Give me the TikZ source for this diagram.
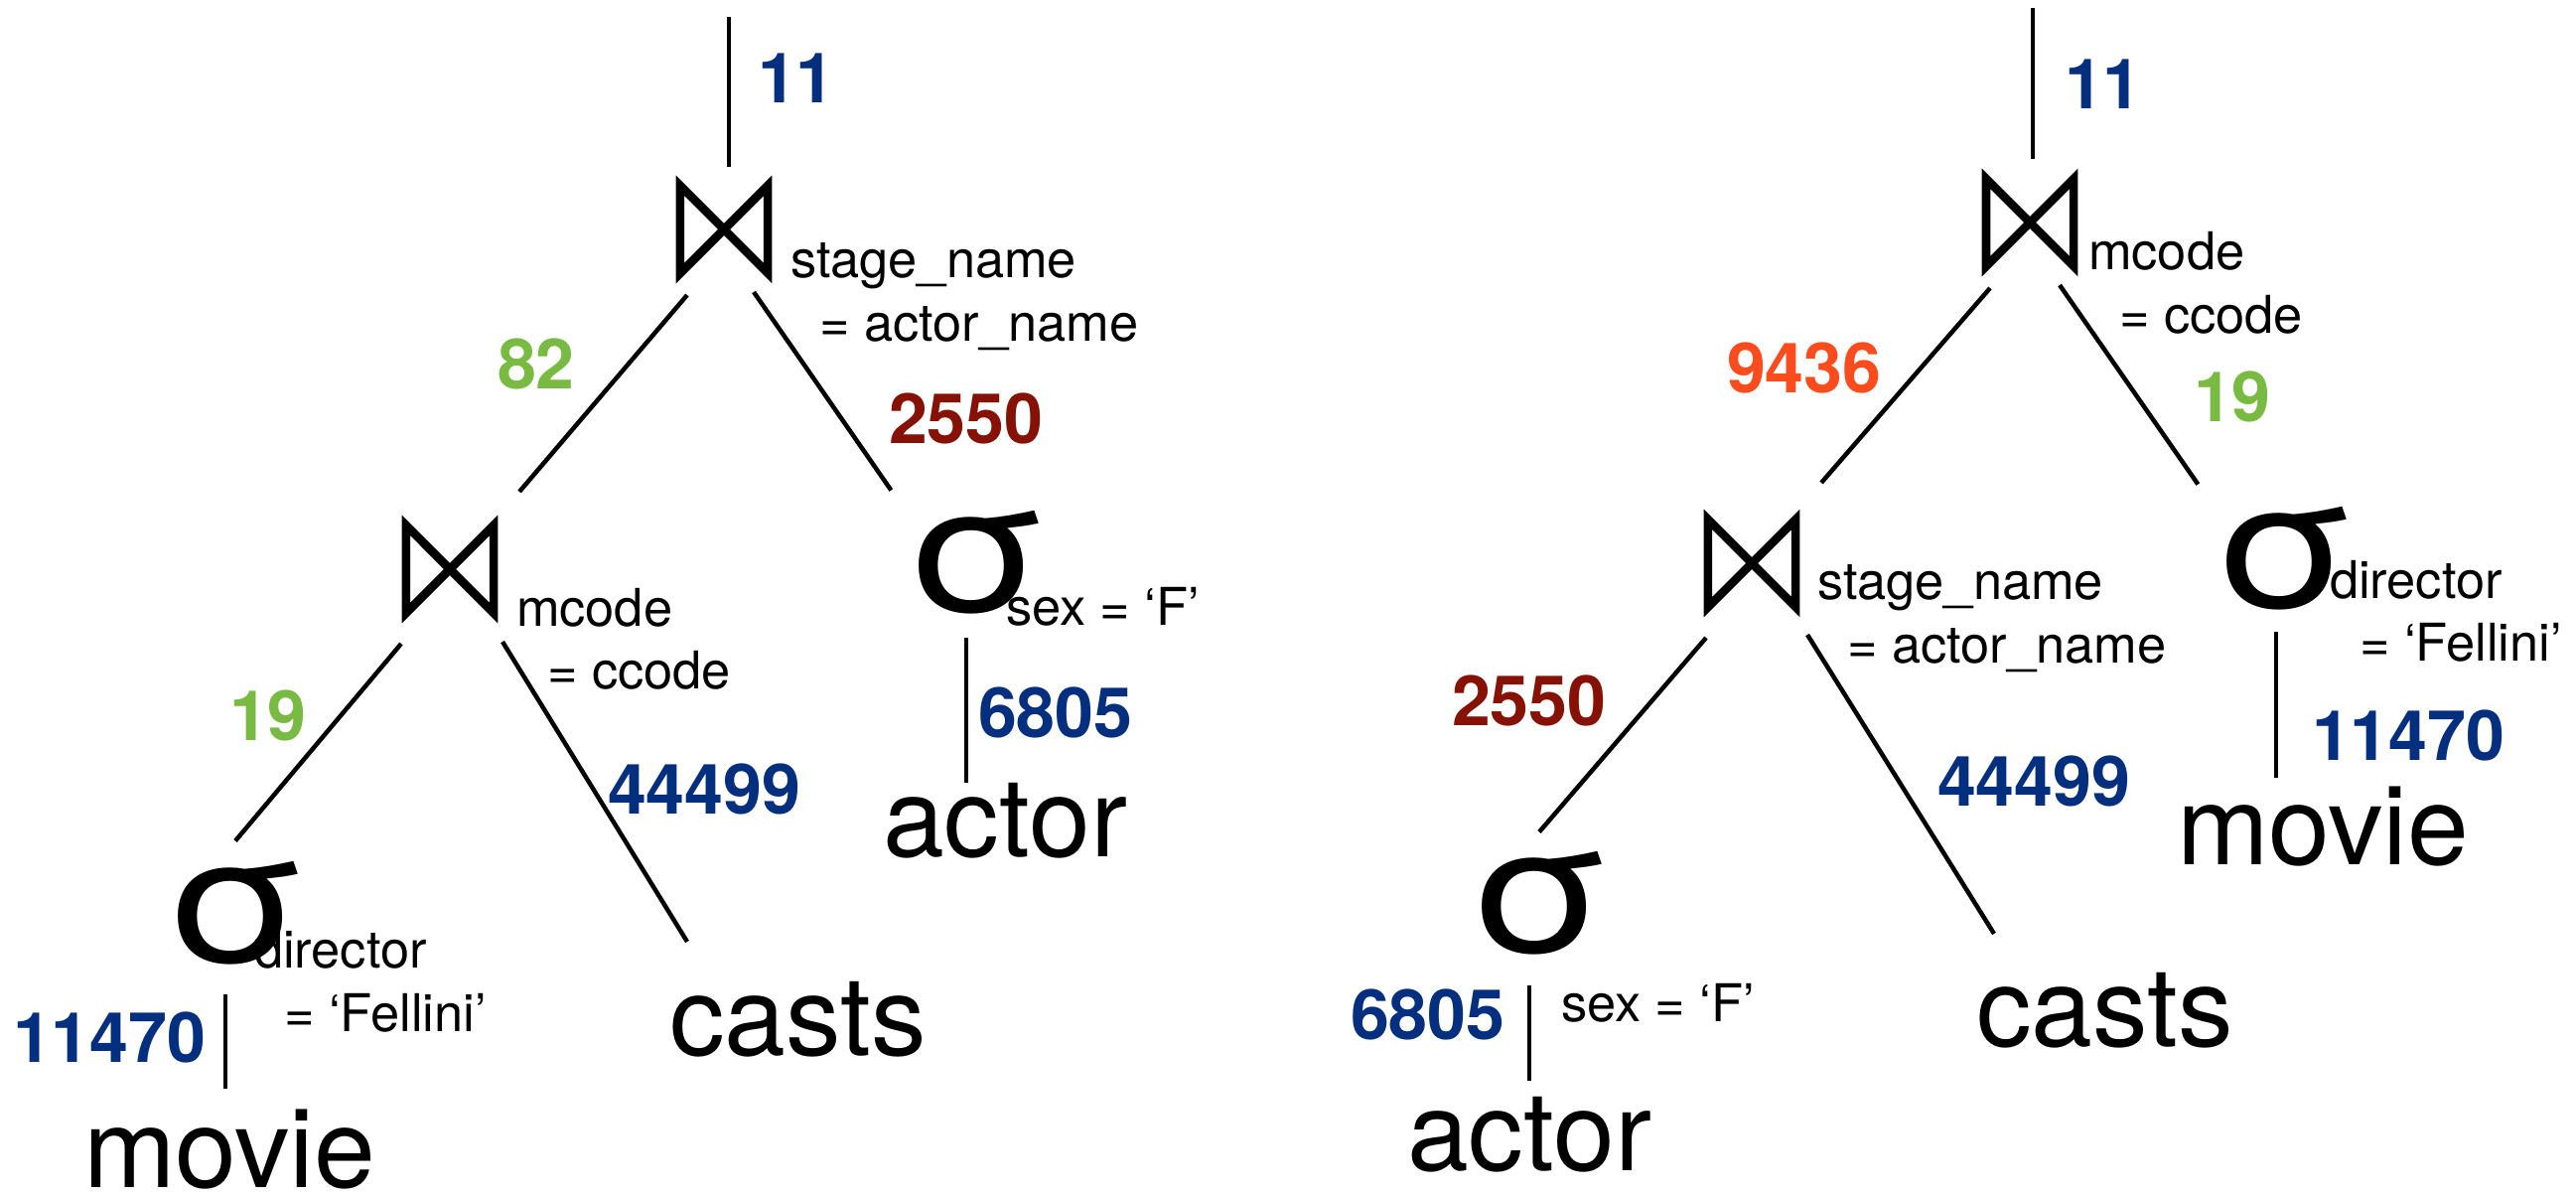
\documentclass[tikz,border=0pt]{standalone}
\usepackage{fontspec}
\setmainfont{TeX Gyre Heros}
\definecolor{cblue}{RGB}{4,46,126}
\definecolor{cgreen}{RGB}{120,186,66}
\definecolor{cdred}{RGB}{133,18,5}
\definecolor{corange}{RGB}{252,76,30}
\newcommand{\condfont}{\fontsize{14.9}{18}\selectfont}
\newcommand{\wordfont}{\fontsize{31.6}{38}\selectfont}
\newcommand{\numfont}{\fontsize{19.9}{24}\selectfont\bfseries}
\newcommand{\sigfont}{\fontsize{50}{60}\selectfont}
\newcommand{\sigsym}{\scalebox{1.26}[1]{σ}}
\begin{document}
\begin{tikzpicture}[x=0.01cm,y=-0.01cm,
  edge/.style={line width=0.045cm, black},
  bow/.style={line width=0.085cm, line join=miter, black},
  joinsym/.style={minimum width=0.96cm, minimum height=1.08cm, inner sep=0pt, outer sep=0pt},
  sig/.style={minimum width=1.1cm, minimum height=0.95cm, inner sep=0pt, outer sep=0pt, font=\sigfont},
  word/.style={anchor=base west, inner sep=0pt, outer sep=0pt, font=\wordfont},
  cond/.style={anchor=base west, inner sep=0pt, outer sep=0pt, font=\condfont},
  num/.style={anchor=base west, inner sep=0pt, outer sep=0pt, font=\numfont}]
\useasboundingbox (0,0) rectangle (2594,1204);
\fill[white] (0,0) rectangle (2594,1204);

% ---------------- left tree ----------------
\coordinate (L-top) at (734,17);
\node[joinsym] (L-J1) at (729,231) {};
\node[joinsym] (L-J2) at (453,573) {};
\node[sig] (L-S1) at (982.5,566.5) {\sigsym};
\node[sig] (L-S2) at (236.5,919) {\sigsym};
\node[word] (L-actor) at (889,863) {actor};
\node[word] (L-casts) at (674,1062) {casts};
\node[word] (L-movie) at (84,1195) {movie};

\node[cond] (L-c1a) at (796,280) {stage\_name};
\node[cond] (L-c1b) at (825,344) {= actor\_name};
\node[cond] (L-c2a) at (520,631) {mcode};
\node[cond] (L-c2b) at (551,694) {= ccode};
\node[cond] (L-c3) at (1013,630) {sex = ‘F’};
\node[cond] (L-c4a) at (256,975) {director};
\node[cond] (L-c4b) at (286,1038) {= ‘Fellini’};

\node[num, text=cblue] (L-n11) at (763,104) {11};
\node[num, text=cgreen] (L-n82) at (501,392) {82};
\node[num, text=cdred] (L-n2550) at (895,447) {2550};
\node[num, text=cgreen] (L-n19) at (231,746) {19};
\node[num, text=cblue] (L-n44499) at (612,820) {44499};
\node[num, text=cblue] (L-n6805) at (985,743) {6805};
\node[num, text=cblue] (L-n11470) at (13,1069) {11470};

\foreach \j in {L-J1,L-J2}{
  \draw[bow] ([shift={(4,10)}]\j.north west) -- ([shift={(4,-10)}]\j.south west)
     -- ([shift={(-4,10)}]\j.north east) -- ([shift={(-4,-10)}]\j.south east) -- cycle;
}

\draw[edge] (L-top) -- ([shift={(5,-9)}]L-J1.north);
\draw[edge] ([shift={(11,12)}]L-J1.south west) -- ([shift={(22,-24)}]L-J2.north east);
\draw[edge] ([shift={(-18,9)}]L-J1.south east) -- ([shift={(-13.5,-21)}]L-S1.north west);
\draw[edge] ([shift={(-9.5,24)}]L-S1.south) -- ([shift={(84,-75)}]L-actor.base west);
\draw[edge] ([shift={(-1,21)}]L-J2.south west) -- ([shift={(0.5,-20.5)}]L-S2.north);
\draw[edge] ([shift={(5,19)}]L-J2.south east) -- ([shift={(18,-114)}]L-casts.base west);
\draw[edge] ([shift={(-9.5,30.5)}]L-S2.south) -- ([shift={(143,-99)}]L-movie.base west);

% ---------------- right tree ----------------
\coordinate (R-top) at (2047,8);
\node[joinsym] (R-J1) at (2044,224) {};
\node[joinsym] (R-J2) at (1764,567) {};
\node[sig] (R-S1) at (2299,562) {\sigsym};
\node[sig] (R-S2) at (1549.5,909) {\sigsym};
\node[word] (R-movie) at (2192,871) {movie};
\node[word] (R-casts) at (1990,1054) {casts};
\node[word] (R-actor) at (1417,1178) {actor};

\node[cond] (R-c1a) at (2103,272) {mcode};
\node[cond] (R-c1b) at (2134,336) {= ccode};
\node[cond] (R-c2a) at (1830,604) {stage\_name};
\node[cond] (R-c2b) at (1860,668) {= actor\_name};
\node[cond] (R-c3a) at (2346,603) {director};
\node[cond] (R-c3b) at (2376,666) {= ‘Fellini’};
\node[cond] (R-c4) at (1572,1028) {sex = ‘F’};

\node[num, text=cblue] (R-n11) at (2079,110) {11};
\node[num, text=corange] (R-n9436) at (1739,396) {9436};
\node[num, text=cgreen] (R-n19) at (2209,425) {19};
\node[num, text=cdred] (R-n2550) at (1462,731) {2550};
\node[num, text=cblue] (R-n44499) at (1951,812) {44499};
\node[num, text=cblue] (R-n11470) at (2328,766) {11470};
\node[num, text=cblue] (R-n6805) at (1360,1047) {6805};

\foreach \j in {R-J1,R-J2}{
  \draw[bow] ([shift={(4,10)}]\j.north west) -- ([shift={(4,-10)}]\j.south west)
     -- ([shift={(-4,10)}]\j.north east) -- ([shift={(-4,-10)}]\j.south east) -- cycle;
}

\draw[edge] (R-top) -- ([shift={(3,-10)}]R-J1.north);
\draw[edge] ([shift={(8,12)}]R-J1.south west) -- ([shift={(22,-27)}]R-J2.north east);
\draw[edge] ([shift={(-18,9)}]R-J1.south east) -- ([shift={(-14,-22.5)}]R-S1.north west);
\draw[edge] ([shift={(-7,22.5)}]R-S1.south) -- ([shift={(100,-88)}]R-movie.base west);
\draw[edge] ([shift={(2,21)}]R-J2.south west) -- ([shift={(0.5,-19.5)}]R-S2.north);
\draw[edge] ([shift={(8,18)}]R-J2.south east) -- ([shift={(18,-114)}]R-casts.base west);
\draw[edge] ([shift={(-9.5,31.5)}]R-S2.south) -- ([shift={(123,-90)}]R-actor.base west);
\end{tikzpicture}
\end{document}
